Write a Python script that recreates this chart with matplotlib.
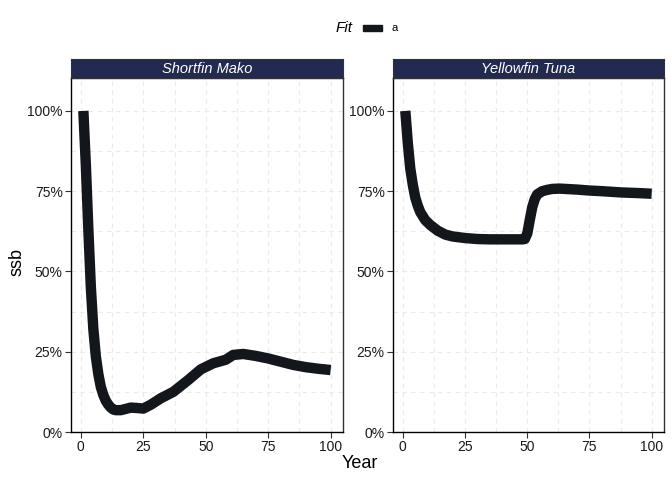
import numpy as np
import matplotlib
matplotlib.use("Agg")
import matplotlib.pyplot as plt
from matplotlib.patches import Rectangle
from matplotlib.ticker import FuncFormatter

plt.rcParams['font.family'] = ['Liberation Sans', 'DejaVu Sans']

# values
mako_year = [1, 2, 3, 4, 5, 6, 7, 8, 9, 10, 11, 12, 13, 14, 16, 18, 20, 22, 25, 28,
             32, 37, 43, 48, 53, 58, 61, 65, 70, 75, 80, 85, 90, 95, 100]
mako_ssb = [1.0, 0.83, 0.63, 0.45, 0.32, 0.235, 0.18, 0.14, 0.115, 0.097, 0.085, 0.076,
            0.07, 0.068, 0.068, 0.072, 0.076, 0.075, 0.073, 0.085,
            0.105, 0.125, 0.162, 0.195, 0.214, 0.225, 0.24, 0.243, 0.237, 0.229,
            0.219, 0.209, 0.202, 0.197, 0.193]

tuna_year = [1, 2, 3, 4, 5, 6, 7, 9, 11, 14, 17, 20, 25, 30, 35, 40, 45, 48, 49,
             50, 51, 52, 53, 54, 56, 58, 60, 63, 70, 75, 80, 88, 95, 100]
tuna_ssb = [1.0, 0.90, 0.82, 0.77, 0.73, 0.705, 0.685, 0.66, 0.645, 0.627, 0.615,
            0.609, 0.604, 0.601, 0.600, 0.600, 0.600, 0.600, 0.601,
            0.618, 0.66, 0.70, 0.725, 0.74, 0.75, 0.754, 0.757, 0.758, 0.755,
            0.752, 0.750, 0.746, 0.744, 0.742]

panels = ["Shortfin Mako", "Yellowfin Tuna"]
series = [(mako_year, mako_ssb), (tuna_year, tuna_ssb)]
line_col = "#13161b"
strip_col = "#222a50"

fig = plt.figure(figsize=(6.72, 4.8), dpi=100)
W, H = 672, 480
boxes = [(71, 343), (393, 664)]
top, bottom = 78, 432

for (x0, x1), name, (yr, val) in zip(boxes, panels, series):
    ax = fig.add_axes([x0 / W, 1 - bottom / H, (x1 - x0) / W, (bottom - top) / H])
    ax.plot(yr, val, color=line_col, lw=7.5, solid_capstyle='butt', solid_joinstyle='round')
    ax.set_xlim(-3.95, 104.95)
    ax.set_ylim(0, 1.1025)
    ax.set_xticks([0, 25, 50, 75, 100])
    ax.set_yticks([0, 0.25, 0.5, 0.75, 1.0])
    ax.set_xticks([12.5, 37.5, 62.5, 87.5], minor=True)
    ax.set_yticks([0.125, 0.375, 0.625, 0.875], minor=True)
    ax.yaxis.set_major_formatter(FuncFormatter(lambda v, p: f"{v*100:.0f}%"))
    ax.grid(True, which='both', color='#ebebeb', lw=0.8, ls=(0, (4, 4)))
    ax.set_axisbelow(True)
    ax.tick_params(which='major', length=4, width=0.8, color='#333333',
                   labelsize=10, labelcolor='#1a1a1a', pad=2)
    ax.tick_params(which='minor', length=0)
    for s in ax.spines.values():
        s.set_color('#333333')
        s.set_linewidth(1.0)
    ax.spines['left'].set_color('black')
    ax.spines['bottom'].set_color('black')

    # facet strip
    sax = fig.add_axes([x0 / W, 1 - top / H, (x1 - x0) / W, 19 / H])
    sax.set_facecolor(strip_col)
    sax.set_xticks([])
    sax.set_yticks([])
    for s in sax.spines.values():
        s.set_color('#333333')
    sax.text(0.5, 0.45, name, color='white', style='italic', fontsize=10.5,
             ha='center', va='center', transform=sax.transAxes)

fig.text(360 / W, 1 - 464 / H, "Year", fontsize=13, ha='center', va='center')
fig.text(17 / W, 1 - 262 / H, "ssb", fontsize=13, rotation=90, ha='center', va='center')

# legend
fig.text(353 / W, 1 - 28 / H, "Fit", style='italic', fontsize=11, ha='right', va='center')
fig.patches.append(Rectangle((363 / W, 1 - 31 / H), 19 / W, 6 / H,
                             transform=fig.transFigure, color=line_col))
fig.text(391 / W, 1 - 28 / H, "a", fontsize=8, ha='left', va='center')

fig.savefig("out.png", dpi=100)
